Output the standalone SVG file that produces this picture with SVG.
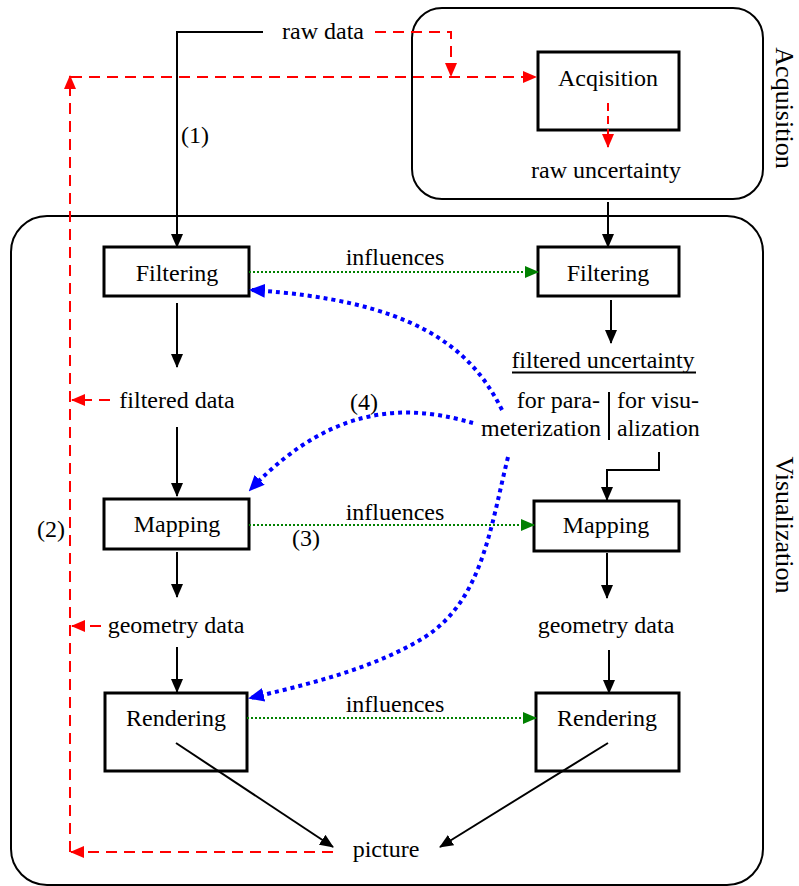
<svg xmlns="http://www.w3.org/2000/svg" width="799" height="886" viewBox="0 0 799 886">
<style>
text{font-family:"Liberation Serif","Times New Roman",serif;font-size:24px;fill:#000}
.c{text-anchor:middle}
.side{font-size:26px}
.box{fill:#fff;stroke:#000;stroke-width:3}
.group{fill:none;stroke:#000;stroke-width:2}
.blk{fill:none;stroke:#000;stroke-width:2}
.red{fill:none;stroke:#f00;stroke-width:2;stroke-dasharray:11 7}
.grn{fill:none;stroke:#008000;stroke-width:2;stroke-dasharray:2 2}
.blu{fill:none;stroke:#00f;stroke-width:4;stroke-dasharray:4 4}
</style>
<defs>
<marker id="ab" viewBox="0 0 14 12" refX="13" refY="6" markerWidth="14" markerHeight="12" markerUnits="userSpaceOnUse" orient="auto"><path d="M0,0L14,6L0,12z" fill="#000"/></marker>
<marker id="ar" viewBox="0 0 14 12" refX="13" refY="6" markerWidth="14" markerHeight="12" markerUnits="userSpaceOnUse" orient="auto"><path d="M0,0L14,6L0,12z" fill="#f00"/></marker>
<marker id="ag" viewBox="0 0 14 12" refX="13" refY="6" markerWidth="14" markerHeight="12" markerUnits="userSpaceOnUse" orient="auto"><path d="M0,0L14,6L0,12z" fill="#008000"/></marker>
<marker id="abl" viewBox="0 0 16 14" refX="14" refY="7" markerWidth="16" markerHeight="14" markerUnits="userSpaceOnUse" orient="auto"><path d="M0,0L16,7L0,14z" fill="#00f"/></marker>
</defs>
<rect width="799" height="886" fill="#fff"/>

<g id="acquisition-group">
<rect class="group" x="412" y="8" width="351" height="191" rx="30"/>
<text class="side c" transform="translate(776,108) rotate(90)">Acquisition</text>
</g>
<g id="visualization-group">
<rect class="group" x="11" y="216" width="752" height="669" rx="36"/>
<text class="side c" transform="translate(776,525) rotate(90)">Visualization</text>
</g>

<g id="acqisition"><rect class="box" x="538" y="52" width="141" height="78"/><text class="c" x="608" y="86">Acqisition</text></g>
<g id="filtering-left"><rect class="box" x="104" y="247" width="145" height="49"/><text class="c" x="177" y="281">Filtering</text></g>
<g id="filtering-right"><rect class="box" x="538" y="247" width="141" height="49"/><text class="c" x="608" y="281">Filtering</text></g>
<g id="mapping-left"><rect class="box" x="104" y="499" width="145" height="50"/><text class="c" x="177" y="532">Mapping</text></g>
<g id="mapping-right"><rect class="box" x="534" y="501" width="145" height="50"/><text class="c" x="606" y="533">Mapping</text></g>
<g id="rendering-left"><rect class="box" x="105" y="693" width="142" height="78"/><text class="c" x="176" y="726">Rendering</text></g>
<g id="rendering-right"><rect class="box" x="536" y="693" width="143" height="78"/><text class="c" x="607" y="726">Rendering</text></g>

<g id="connectors">
<polyline class="blk" points="263,32 177,32 177,247" marker-end="url(#ab)"/>
<polyline class="red" points="375,32 451,32 451,76" marker-end="url(#ar)"/>
<line class="red" x1="71" y1="77" x2="536" y2="77" marker-end="url(#ar)"/>
<line class="red" x1="70" y1="852" x2="70" y2="76" marker-end="url(#ar)"/>
<line class="red" x1="333" y1="852" x2="71" y2="852" marker-end="url(#ar)"/>
<line class="red" x1="608" y1="103" x2="608" y2="147" style="stroke-dasharray:8 5" marker-end="url(#ar)"/>
<line class="red" x1="110" y1="400" x2="72" y2="400" marker-end="url(#ar)"/>
<line class="red" x1="101" y1="626" x2="72" y2="626" marker-end="url(#ar)"/>
<line class="blk" x1="608" y1="202" x2="608" y2="247" marker-end="url(#ab)"/>
<line class="blk" x1="177" y1="303" x2="177" y2="367" marker-end="url(#ab)"/>
<line class="blk" x1="611" y1="300" x2="611" y2="343" marker-end="url(#ab)"/>
<line class="blk" x1="177" y1="427" x2="177" y2="496" marker-end="url(#ab)"/>
<polyline class="blk" points="659,452 659,470 607,470 607,500" marker-end="url(#ab)"/>
<line class="blk" x1="177" y1="552" x2="177" y2="597" marker-end="url(#ab)"/>
<line class="blk" x1="607" y1="553" x2="607" y2="598" marker-end="url(#ab)"/>
<line class="blk" x1="177" y1="647" x2="177" y2="692" marker-end="url(#ab)"/>
<line class="blk" x1="609" y1="650" x2="609" y2="693" marker-end="url(#ab)"/>
<line class="blk" x1="176" y1="743" x2="333" y2="847" marker-end="url(#ab)"/>
<line class="blk" x1="608" y1="743" x2="440" y2="847" marker-end="url(#ab)"/>
<line class="grn" x1="249" y1="272" x2="538" y2="272" marker-end="url(#ag)"/>
<line class="grn" x1="249" y1="525" x2="534" y2="525" marker-end="url(#ag)"/>
<line class="grn" x1="247" y1="718" x2="536" y2="718" marker-end="url(#ag)"/>
<path class="blu" d="M502,410 C470,345 410,300 251,290" marker-end="url(#abl)"/>
<path class="blu" d="M473,423 C420,408 340,395 250,490" marker-end="url(#abl)"/>
<path class="blu" d="M508,457 C490,530 482,600 425,637 C375,668 310,684 250,698" marker-end="url(#abl)"/>
<line x1="609" y1="392" x2="609" y2="440" stroke="#000" stroke-width="2"/>
</g>

<g id="raw-data"><text x="282" y="39">raw data</text></g>
<g id="raw-uncertainty"><text class="c" x="606" y="178">raw uncertainty</text></g>
<g id="filtered-data"><text class="c" x="177" y="408">filtered data</text></g>
<g id="filtered-uncertainty">
<text class="c" x="603" y="368">filtered uncertainty</text>
<line x1="512" y1="372.5" x2="696" y2="372.5" stroke="#000" stroke-width="2"/>
<text x="600" y="408" text-anchor="end">for para-</text>
<text x="601" y="436" text-anchor="end">meterization</text>
<text x="617" y="408">for visu-</text>
<text x="617" y="436">alization</text>
</g>
<g id="geometry-data-left"><text class="c" x="176" y="633">geometry data</text></g>
<g id="geometry-data-right"><text class="c" x="606" y="633">geometry data</text></g>
<g id="picture"><text class="c" x="386" y="857">picture</text></g>
<g id="labels">
<text x="181" y="143">(1)</text>
<text x="37" y="537">(2)</text>
<text x="292" y="546">(3)</text>
<text x="350" y="410">(4)</text>
<text class="c" x="395" y="265">influences</text>
<text class="c" x="395" y="520">influences</text>
<text class="c" x="395" y="712">influences</text>
</g>
</svg>
